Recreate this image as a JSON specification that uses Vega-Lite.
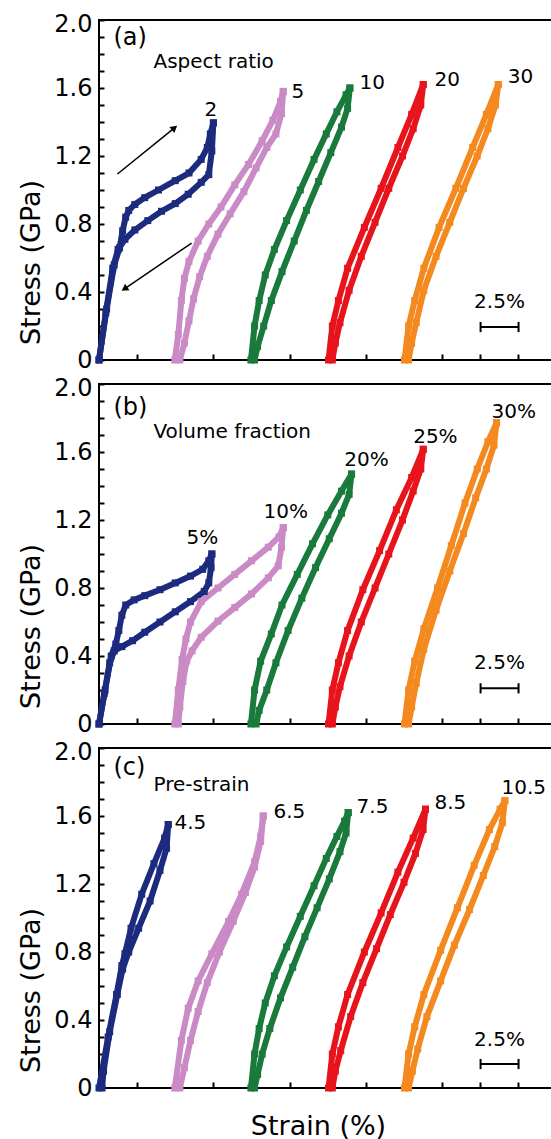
{
"$schema": "https://vega.github.io/schema/vega-lite/v6.json",
"padding": {"left": 16, "top": 11, "right": 0, "bottom": 0},
"bounds": "flush",
"spacing": 24,
"config": {"view": {"stroke": "black", "strokeWidth": 2}, "font": "DejaVu Sans", "axis": {"ticks": true}},
"datasets": {
"curves": [
{"p":"a","c":"blue","b":"a1L","x":0,"y":0},{"p":"a","c":"blue","b":"a1L","x":0.5,"y":0.3},{"p":"a","c":"blue","b":"a1L","x":1.0,"y":0.56},{"p":"a","c":"blue","b":"a1L","x":1.35,"y":0.66},{"p":"a","c":"blue","b":"a1L","x":1.55,"y":0.76},{"p":"a","c":"blue","b":"a1L","x":1.75,"y":0.84},{"p":"a","c":"blue","b":"a1L","x":1.95,"y":0.88},{"p":"a","c":"blue","b":"a1L","x":2.35,"y":0.915},{"p":"a","c":"blue","b":"a1L","x":3.0,"y":0.955},{"p":"a","c":"blue","b":"a1L","x":3.9,"y":1.0},{"p":"a","c":"blue","b":"a1L","x":5.0,"y":1.055},{"p":"a","c":"blue","b":"a1L","x":5.9,"y":1.1},{"p":"a","c":"blue","b":"a1L","x":6.7,"y":1.18},{"p":"a","c":"blue","b":"a1L","x":7.1,"y":1.25},{"p":"a","c":"blue","b":"a1L","x":7.3,"y":1.33},{"p":"a","c":"blue","b":"a1L","x":7.5,"y":1.395},
{"p":"a","c":"blue","b":"a1U","x":7.5,"y":1.395},{"p":"a","c":"blue","b":"a1U","x":7.4,"y":1.23},{"p":"a","c":"blue","b":"a1U","x":7.2,"y":1.09},{"p":"a","c":"blue","b":"a1U","x":6.7,"y":1.045},{"p":"a","c":"blue","b":"a1U","x":5.85,"y":0.975},{"p":"a","c":"blue","b":"a1U","x":5.0,"y":0.92},{"p":"a","c":"blue","b":"a1U","x":4.1,"y":0.875},{"p":"a","c":"blue","b":"a1U","x":3.2,"y":0.82},{"p":"a","c":"blue","b":"a1U","x":2.35,"y":0.765},{"p":"a","c":"blue","b":"a1U","x":1.7,"y":0.71},{"p":"a","c":"blue","b":"a1U","x":1.25,"y":0.65},{"p":"a","c":"blue","b":"a1U","x":0.9,"y":0.54},{"p":"a","c":"blue","b":"a1U","x":0.45,"y":0.28},{"p":"a","c":"blue","b":"a1U","x":0,"y":0},
{"p":"a","c":"pink","b":"a2L","x":4.97,"y":0},{"p":"a","c":"pink","b":"a2L","x":5.2,"y":0.15},{"p":"a","c":"pink","b":"a2L","x":5.4,"y":0.35},{"p":"a","c":"pink","b":"a2L","x":5.6,"y":0.48},{"p":"a","c":"pink","b":"a2L","x":5.9,"y":0.58},{"p":"a","c":"pink","b":"a2L","x":6.5,"y":0.7},{"p":"a","c":"pink","b":"a2L","x":7.2,"y":0.8},{"p":"a","c":"pink","b":"a2L","x":8.0,"y":0.9},{"p":"a","c":"pink","b":"a2L","x":8.9,"y":1.03},{"p":"a","c":"pink","b":"a2L","x":9.8,"y":1.15},{"p":"a","c":"pink","b":"a2L","x":10.7,"y":1.29},{"p":"a","c":"pink","b":"a2L","x":11.4,"y":1.41},{"p":"a","c":"pink","b":"a2L","x":11.9,"y":1.52},{"p":"a","c":"pink","b":"a2L","x":12.08,"y":1.58},
{"p":"a","c":"pink","b":"a2U","x":12.08,"y":1.58},{"p":"a","c":"pink","b":"a2U","x":11.97,"y":1.45},{"p":"a","c":"pink","b":"a2U","x":11.6,"y":1.33},{"p":"a","c":"pink","b":"a2U","x":11.0,"y":1.25},{"p":"a","c":"pink","b":"a2U","x":10.3,"y":1.13},{"p":"a","c":"pink","b":"a2U","x":9.5,"y":0.99},{"p":"a","c":"pink","b":"a2U","x":8.6,"y":0.86},{"p":"a","c":"pink","b":"a2U","x":7.8,"y":0.74},{"p":"a","c":"pink","b":"a2U","x":7.1,"y":0.61},{"p":"a","c":"pink","b":"a2U","x":6.6,"y":0.49},{"p":"a","c":"pink","b":"a2U","x":6.2,"y":0.36},{"p":"a","c":"pink","b":"a2U","x":5.9,"y":0.23},{"p":"a","c":"pink","b":"a2U","x":5.6,"y":0.1},{"p":"a","c":"pink","b":"a2U","x":5.3,"y":0},
{"p":"a","c":"green","b":"a3L","x":9.96,"y":0},{"p":"a","c":"green","b":"a3L","x":10.2,"y":0.2},{"p":"a","c":"green","b":"a3L","x":10.5,"y":0.35},{"p":"a","c":"green","b":"a3L","x":10.9,"y":0.5},{"p":"a","c":"green","b":"a3L","x":11.5,"y":0.65},{"p":"a","c":"green","b":"a3L","x":12.3,"y":0.82},{"p":"a","c":"green","b":"a3L","x":13.2,"y":1.0},{"p":"a","c":"green","b":"a3L","x":14.1,"y":1.18},{"p":"a","c":"green","b":"a3L","x":14.9,"y":1.33},{"p":"a","c":"green","b":"a3L","x":15.6,"y":1.46},{"p":"a","c":"green","b":"a3L","x":16.2,"y":1.56},{"p":"a","c":"green","b":"a3L","x":16.45,"y":1.6},
{"p":"a","c":"green","b":"a3U","x":16.45,"y":1.6},{"p":"a","c":"green","b":"a3U","x":16.3,"y":1.48},{"p":"a","c":"green","b":"a3U","x":15.9,"y":1.37},{"p":"a","c":"green","b":"a3U","x":15.2,"y":1.22},{"p":"a","c":"green","b":"a3U","x":14.4,"y":1.05},{"p":"a","c":"green","b":"a3U","x":13.6,"y":0.88},{"p":"a","c":"green","b":"a3U","x":12.8,"y":0.7},{"p":"a","c":"green","b":"a3U","x":12.0,"y":0.52},{"p":"a","c":"green","b":"a3U","x":11.3,"y":0.35},{"p":"a","c":"green","b":"a3U","x":10.8,"y":0.2},{"p":"a","c":"green","b":"a3U","x":10.4,"y":0.08},{"p":"a","c":"green","b":"a3U","x":10.2,"y":0},
{"p":"a","c":"red","b":"a4L","x":15.05,"y":0},{"p":"a","c":"red","b":"a4L","x":15.3,"y":0.2},{"p":"a","c":"red","b":"a4L","x":15.7,"y":0.35},{"p":"a","c":"red","b":"a4L","x":16.3,"y":0.54},{"p":"a","c":"red","b":"a4L","x":17.4,"y":0.78},{"p":"a","c":"red","b":"a4L","x":18.5,"y":1.01},{"p":"a","c":"red","b":"a4L","x":19.6,"y":1.25},{"p":"a","c":"red","b":"a4L","x":20.5,"y":1.445},{"p":"a","c":"red","b":"a4L","x":21.26,"y":1.62},
{"p":"a","c":"red","b":"a4U","x":21.26,"y":1.62},{"p":"a","c":"red","b":"a4U","x":21.1,"y":1.5},{"p":"a","c":"red","b":"a4U","x":20.6,"y":1.36},{"p":"a","c":"red","b":"a4U","x":19.9,"y":1.2},{"p":"a","c":"red","b":"a4U","x":19.0,"y":1.01},{"p":"a","c":"red","b":"a4U","x":18.1,"y":0.81},{"p":"a","c":"red","b":"a4U","x":17.2,"y":0.61},{"p":"a","c":"red","b":"a4U","x":16.4,"y":0.41},{"p":"a","c":"red","b":"a4U","x":15.8,"y":0.22},{"p":"a","c":"red","b":"a4U","x":15.5,"y":0.1},{"p":"a","c":"red","b":"a4U","x":15.3,"y":0},
{"p":"a","c":"orange","b":"a5L","x":20.03,"y":0},{"p":"a","c":"orange","b":"a5L","x":20.3,"y":0.2},{"p":"a","c":"orange","b":"a5L","x":20.7,"y":0.35},{"p":"a","c":"orange","b":"a5L","x":21.3,"y":0.54},{"p":"a","c":"orange","b":"a5L","x":22.3,"y":0.78},{"p":"a","c":"orange","b":"a5L","x":23.4,"y":1.01},{"p":"a","c":"orange","b":"a5L","x":24.5,"y":1.25},{"p":"a","c":"orange","b":"a5L","x":25.4,"y":1.445},{"p":"a","c":"orange","b":"a5L","x":26.18,"y":1.62},
{"p":"a","c":"orange","b":"a5U","x":26.18,"y":1.62},{"p":"a","c":"orange","b":"a5U","x":26.0,"y":1.5},{"p":"a","c":"orange","b":"a5U","x":25.5,"y":1.36},{"p":"a","c":"orange","b":"a5U","x":24.8,"y":1.2},{"p":"a","c":"orange","b":"a5U","x":23.9,"y":1.01},{"p":"a","c":"orange","b":"a5U","x":23.0,"y":0.81},{"p":"a","c":"orange","b":"a5U","x":22.1,"y":0.61},{"p":"a","c":"orange","b":"a5U","x":21.3,"y":0.41},{"p":"a","c":"orange","b":"a5U","x":20.8,"y":0.22},{"p":"a","c":"orange","b":"a5U","x":20.5,"y":0.1},{"p":"a","c":"orange","b":"a5U","x":20.3,"y":0},
{"p":"b","c":"blue","b":"b1L","x":0,"y":0},{"p":"b","c":"blue","b":"b1L","x":0.4,"y":0.2},{"p":"b","c":"blue","b":"b1L","x":0.8,"y":0.4},{"p":"b","c":"blue","b":"b1L","x":1.1,"y":0.47},{"p":"b","c":"blue","b":"b1L","x":1.3,"y":0.55},{"p":"b","c":"blue","b":"b1L","x":1.5,"y":0.64},{"p":"b","c":"blue","b":"b1L","x":1.75,"y":0.7},{"p":"b","c":"blue","b":"b1L","x":2.3,"y":0.73},{"p":"b","c":"blue","b":"b1L","x":3.0,"y":0.755},{"p":"b","c":"blue","b":"b1L","x":4.0,"y":0.79},{"p":"b","c":"blue","b":"b1L","x":5.0,"y":0.83},{"p":"b","c":"blue","b":"b1L","x":6.0,"y":0.87},{"p":"b","c":"blue","b":"b1L","x":6.8,"y":0.91},{"p":"b","c":"blue","b":"b1L","x":7.2,"y":0.96},{"p":"b","c":"blue","b":"b1L","x":7.4,"y":1.0},
{"p":"b","c":"blue","b":"b1U","x":7.4,"y":1.0},{"p":"b","c":"blue","b":"b1U","x":7.35,"y":0.92},{"p":"b","c":"blue","b":"b1U","x":7.2,"y":0.83},{"p":"b","c":"blue","b":"b1U","x":6.9,"y":0.78},{"p":"b","c":"blue","b":"b1U","x":6.0,"y":0.72},{"p":"b","c":"blue","b":"b1U","x":5.0,"y":0.66},{"p":"b","c":"blue","b":"b1U","x":4.0,"y":0.6},{"p":"b","c":"blue","b":"b1U","x":3.0,"y":0.54},{"p":"b","c":"blue","b":"b1U","x":2.2,"y":0.49},{"p":"b","c":"blue","b":"b1U","x":1.5,"y":0.455},{"p":"b","c":"blue","b":"b1U","x":1.0,"y":0.43},{"p":"b","c":"blue","b":"b1U","x":0.7,"y":0.36},{"p":"b","c":"blue","b":"b1U","x":0.35,"y":0.18},{"p":"b","c":"blue","b":"b1U","x":0,"y":0},
{"p":"b","c":"pink","b":"b2L","x":4.97,"y":0},{"p":"b","c":"pink","b":"b2L","x":5.2,"y":0.2},{"p":"b","c":"pink","b":"b2L","x":5.45,"y":0.38},{"p":"b","c":"pink","b":"b2L","x":5.7,"y":0.5},{"p":"b","c":"pink","b":"b2L","x":6.0,"y":0.6},{"p":"b","c":"pink","b":"b2L","x":6.7,"y":0.72},{"p":"b","c":"pink","b":"b2L","x":7.8,"y":0.8},{"p":"b","c":"pink","b":"b2L","x":8.9,"y":0.88},{"p":"b","c":"pink","b":"b2L","x":10.0,"y":0.96},{"p":"b","c":"pink","b":"b2L","x":11.1,"y":1.04},{"p":"b","c":"pink","b":"b2L","x":11.8,"y":1.1},{"p":"b","c":"pink","b":"b2L","x":12.08,"y":1.155},
{"p":"b","c":"pink","b":"b2U","x":12.08,"y":1.155},{"p":"b","c":"pink","b":"b2U","x":11.97,"y":1.04},{"p":"b","c":"pink","b":"b2U","x":11.75,"y":0.93},{"p":"b","c":"pink","b":"b2U","x":11.1,"y":0.86},{"p":"b","c":"pink","b":"b2U","x":10.0,"y":0.765},{"p":"b","c":"pink","b":"b2U","x":8.9,"y":0.685},{"p":"b","c":"pink","b":"b2U","x":7.8,"y":0.605},{"p":"b","c":"pink","b":"b2U","x":6.7,"y":0.51},{"p":"b","c":"pink","b":"b2U","x":6.1,"y":0.43},{"p":"b","c":"pink","b":"b2U","x":5.75,"y":0.37},{"p":"b","c":"pink","b":"b2U","x":5.5,"y":0.25},{"p":"b","c":"pink","b":"b2U","x":5.3,"y":0.1},{"p":"b","c":"pink","b":"b2U","x":5.2,"y":0},
{"p":"b","c":"green","b":"b3L","x":9.96,"y":0},{"p":"b","c":"green","b":"b3L","x":10.2,"y":0.2},{"p":"b","c":"green","b":"b3L","x":10.6,"y":0.37},{"p":"b","c":"green","b":"b3L","x":11.3,"y":0.53},{"p":"b","c":"green","b":"b3L","x":12.0,"y":0.7},{"p":"b","c":"green","b":"b3L","x":13.0,"y":0.88},{"p":"b","c":"green","b":"b3L","x":14.0,"y":1.06},{"p":"b","c":"green","b":"b3L","x":15.0,"y":1.23},{"p":"b","c":"green","b":"b3L","x":15.9,"y":1.37},{"p":"b","c":"green","b":"b3L","x":16.56,"y":1.47},
{"p":"b","c":"green","b":"b3U","x":16.56,"y":1.47},{"p":"b","c":"green","b":"b3U","x":16.4,"y":1.35},{"p":"b","c":"green","b":"b3U","x":15.9,"y":1.24},{"p":"b","c":"green","b":"b3U","x":15.1,"y":1.09},{"p":"b","c":"green","b":"b3U","x":14.2,"y":0.92},{"p":"b","c":"green","b":"b3U","x":13.3,"y":0.74},{"p":"b","c":"green","b":"b3U","x":12.4,"y":0.55},{"p":"b","c":"green","b":"b3U","x":11.6,"y":0.36},{"p":"b","c":"green","b":"b3U","x":11.0,"y":0.2},{"p":"b","c":"green","b":"b3U","x":10.5,"y":0.08},{"p":"b","c":"green","b":"b3U","x":10.3,"y":0},
{"p":"b","c":"red","b":"b4L","x":15.05,"y":0},{"p":"b","c":"red","b":"b4L","x":15.3,"y":0.2},{"p":"b","c":"red","b":"b4L","x":15.7,"y":0.36},{"p":"b","c":"red","b":"b4L","x":16.3,"y":0.55},{"p":"b","c":"red","b":"b4L","x":17.3,"y":0.79},{"p":"b","c":"red","b":"b4L","x":18.4,"y":1.02},{"p":"b","c":"red","b":"b4L","x":19.5,"y":1.26},{"p":"b","c":"red","b":"b4L","x":20.5,"y":1.45},{"p":"b","c":"red","b":"b4L","x":21.26,"y":1.616},
{"p":"b","c":"red","b":"b4U","x":21.26,"y":1.616},{"p":"b","c":"red","b":"b4U","x":21.1,"y":1.5},{"p":"b","c":"red","b":"b4U","x":20.6,"y":1.37},{"p":"b","c":"red","b":"b4U","x":19.9,"y":1.2},{"p":"b","c":"red","b":"b4U","x":19.0,"y":1.0},{"p":"b","c":"red","b":"b4U","x":18.1,"y":0.8},{"p":"b","c":"red","b":"b4U","x":17.2,"y":0.6},{"p":"b","c":"red","b":"b4U","x":16.4,"y":0.4},{"p":"b","c":"red","b":"b4U","x":15.8,"y":0.22},{"p":"b","c":"red","b":"b4U","x":15.5,"y":0.1},{"p":"b","c":"red","b":"b4U","x":15.3,"y":0},
{"p":"b","c":"orange","b":"b5L","x":20.03,"y":0},{"p":"b","c":"orange","b":"b5L","x":20.3,"y":0.2},{"p":"b","c":"orange","b":"b5L","x":20.7,"y":0.37},{"p":"b","c":"orange","b":"b5L","x":21.3,"y":0.56},{"p":"b","c":"orange","b":"b5L","x":22.2,"y":0.8},{"p":"b","c":"orange","b":"b5L","x":23.1,"y":1.05},{"p":"b","c":"orange","b":"b5L","x":24.0,"y":1.3},{"p":"b","c":"orange","b":"b5L","x":24.8,"y":1.5},{"p":"b","c":"orange","b":"b5L","x":25.5,"y":1.66},{"p":"b","c":"orange","b":"b5L","x":26.07,"y":1.772},
{"p":"b","c":"orange","b":"b5U","x":26.07,"y":1.772},{"p":"b","c":"orange","b":"b5U","x":25.9,"y":1.64},{"p":"b","c":"orange","b":"b5U","x":25.4,"y":1.5},{"p":"b","c":"orange","b":"b5U","x":24.7,"y":1.33},{"p":"b","c":"orange","b":"b5U","x":23.9,"y":1.12},{"p":"b","c":"orange","b":"b5U","x":23.0,"y":0.9},{"p":"b","c":"orange","b":"b5U","x":22.1,"y":0.67},{"p":"b","c":"orange","b":"b5U","x":21.3,"y":0.44},{"p":"b","c":"orange","b":"b5U","x":20.8,"y":0.24},{"p":"b","c":"orange","b":"b5U","x":20.5,"y":0.1},{"p":"b","c":"orange","b":"b5U","x":20.3,"y":0},
{"p":"c","c":"blue","b":"c1L","x":0,"y":0},{"p":"c","c":"blue","b":"c1L","x":0.6,"y":0.3},{"p":"c","c":"blue","b":"c1L","x":1.15,"y":0.55},{"p":"c","c":"blue","b":"c1L","x":1.5,"y":0.72},{"p":"c","c":"blue","b":"c1L","x":1.7,"y":0.79},{"p":"c","c":"blue","b":"c1L","x":2.1,"y":0.94},{"p":"c","c":"blue","b":"c1L","x":2.8,"y":1.14},{"p":"c","c":"blue","b":"c1L","x":3.6,"y":1.32},{"p":"c","c":"blue","b":"c1L","x":4.3,"y":1.47},{"p":"c","c":"blue","b":"c1L","x":4.54,"y":1.55},
{"p":"c","c":"blue","b":"c1U","x":4.54,"y":1.55},{"p":"c","c":"blue","b":"c1U","x":4.43,"y":1.41},{"p":"c","c":"blue","b":"c1U","x":4.0,"y":1.28},{"p":"c","c":"blue","b":"c1U","x":3.35,"y":1.1},{"p":"c","c":"blue","b":"c1U","x":2.6,"y":0.94},{"p":"c","c":"blue","b":"c1U","x":1.95,"y":0.8},{"p":"c","c":"blue","b":"c1U","x":1.55,"y":0.7},{"p":"c","c":"blue","b":"c1U","x":1.2,"y":0.55},{"p":"c","c":"blue","b":"c1U","x":0.7,"y":0.33},{"p":"c","c":"blue","b":"c1U","x":0.3,"y":0.1},{"p":"c","c":"blue","b":"c1U","x":0.2,"y":0},
{"p":"c","c":"pink","b":"c2L","x":4.97,"y":0},{"p":"c","c":"pink","b":"c2L","x":5.4,"y":0.28},{"p":"c","c":"pink","b":"c2L","x":5.85,"y":0.47},{"p":"c","c":"pink","b":"c2L","x":6.5,"y":0.63},{"p":"c","c":"pink","b":"c2L","x":7.4,"y":0.79},{"p":"c","c":"pink","b":"c2L","x":8.5,"y":0.98},{"p":"c","c":"pink","b":"c2L","x":9.35,"y":1.14},{"p":"c","c":"pink","b":"c2L","x":10.2,"y":1.33},{"p":"c","c":"pink","b":"c2L","x":10.6,"y":1.48},{"p":"c","c":"pink","b":"c2L","x":10.77,"y":1.6},
{"p":"c","c":"pink","b":"c2U","x":10.77,"y":1.6},{"p":"c","c":"pink","b":"c2U","x":10.6,"y":1.45},{"p":"c","c":"pink","b":"c2U","x":10.2,"y":1.3},{"p":"c","c":"pink","b":"c2U","x":9.6,"y":1.15},{"p":"c","c":"pink","b":"c2U","x":8.8,"y":0.98},{"p":"c","c":"pink","b":"c2U","x":7.9,"y":0.8},{"p":"c","c":"pink","b":"c2U","x":7.1,"y":0.62},{"p":"c","c":"pink","b":"c2U","x":6.5,"y":0.45},{"p":"c","c":"pink","b":"c2U","x":6.0,"y":0.28},{"p":"c","c":"pink","b":"c2U","x":5.6,"y":0.12},{"p":"c","c":"pink","b":"c2U","x":5.3,"y":0},
{"p":"c","c":"green","b":"c3L","x":9.96,"y":0},{"p":"c","c":"green","b":"c3L","x":10.2,"y":0.2},{"p":"c","c":"green","b":"c3L","x":10.5,"y":0.35},{"p":"c","c":"green","b":"c3L","x":10.9,"y":0.5},{"p":"c","c":"green","b":"c3L","x":11.5,"y":0.66},{"p":"c","c":"green","b":"c3L","x":12.3,"y":0.83},{"p":"c","c":"green","b":"c3L","x":13.2,"y":1.01},{"p":"c","c":"green","b":"c3L","x":14.1,"y":1.19},{"p":"c","c":"green","b":"c3L","x":14.9,"y":1.35},{"p":"c","c":"green","b":"c3L","x":15.6,"y":1.48},{"p":"c","c":"green","b":"c3L","x":16.1,"y":1.57},{"p":"c","c":"green","b":"c3L","x":16.34,"y":1.62},
{"p":"c","c":"green","b":"c3U","x":16.34,"y":1.62},{"p":"c","c":"green","b":"c3U","x":16.2,"y":1.5},{"p":"c","c":"green","b":"c3U","x":15.8,"y":1.39},{"p":"c","c":"green","b":"c3U","x":15.1,"y":1.23},{"p":"c","c":"green","b":"c3U","x":14.3,"y":1.06},{"p":"c","c":"green","b":"c3U","x":13.5,"y":0.89},{"p":"c","c":"green","b":"c3U","x":12.7,"y":0.71},{"p":"c","c":"green","b":"c3U","x":11.9,"y":0.53},{"p":"c","c":"green","b":"c3U","x":11.2,"y":0.35},{"p":"c","c":"green","b":"c3U","x":10.7,"y":0.2},{"p":"c","c":"green","b":"c3U","x":10.4,"y":0.08},{"p":"c","c":"green","b":"c3U","x":10.2,"y":0},
{"p":"c","c":"red","b":"c4L","x":15.05,"y":0},{"p":"c","c":"red","b":"c4L","x":15.3,"y":0.2},{"p":"c","c":"red","b":"c4L","x":15.7,"y":0.36},{"p":"c","c":"red","b":"c4L","x":16.3,"y":0.55},{"p":"c","c":"red","b":"c4L","x":17.4,"y":0.8},{"p":"c","c":"red","b":"c4L","x":18.5,"y":1.03},{"p":"c","c":"red","b":"c4L","x":19.6,"y":1.27},{"p":"c","c":"red","b":"c4L","x":20.6,"y":1.47},{"p":"c","c":"red","b":"c4L","x":21.41,"y":1.64},
{"p":"c","c":"red","b":"c4U","x":21.41,"y":1.64},{"p":"c","c":"red","b":"c4U","x":21.25,"y":1.52},{"p":"c","c":"red","b":"c4U","x":20.75,"y":1.38},{"p":"c","c":"red","b":"c4U","x":20.0,"y":1.21},{"p":"c","c":"red","b":"c4U","x":19.1,"y":1.02},{"p":"c","c":"red","b":"c4U","x":18.2,"y":0.82},{"p":"c","c":"red","b":"c4U","x":17.3,"y":0.62},{"p":"c","c":"red","b":"c4U","x":16.5,"y":0.42},{"p":"c","c":"red","b":"c4U","x":15.85,"y":0.22},{"p":"c","c":"red","b":"c4U","x":15.5,"y":0.1},{"p":"c","c":"red","b":"c4U","x":15.3,"y":0},
{"p":"c","c":"orange","b":"c5L","x":20.03,"y":0},{"p":"c","c":"orange","b":"c5L","x":20.3,"y":0.2},{"p":"c","c":"orange","b":"c5L","x":20.7,"y":0.36},{"p":"c","c":"orange","b":"c5L","x":21.3,"y":0.55},{"p":"c","c":"orange","b":"c5L","x":22.4,"y":0.81},{"p":"c","c":"orange","b":"c5L","x":23.5,"y":1.06},{"p":"c","c":"orange","b":"c5L","x":24.6,"y":1.31},{"p":"c","c":"orange","b":"c5L","x":25.6,"y":1.52},{"p":"c","c":"orange","b":"c5L","x":26.3,"y":1.64},{"p":"c","c":"orange","b":"c5L","x":26.61,"y":1.69},
{"p":"c","c":"orange","b":"c5U","x":26.61,"y":1.69},{"p":"c","c":"orange","b":"c5U","x":26.45,"y":1.56},{"p":"c","c":"orange","b":"c5U","x":25.95,"y":1.42},{"p":"c","c":"orange","b":"c5U","x":25.2,"y":1.25},{"p":"c","c":"orange","b":"c5U","x":24.3,"y":1.05},{"p":"c","c":"orange","b":"c5U","x":23.3,"y":0.84},{"p":"c","c":"orange","b":"c5U","x":22.4,"y":0.63},{"p":"c","c":"orange","b":"c5U","x":21.5,"y":0.42},{"p":"c","c":"orange","b":"c5U","x":20.9,"y":0.23},{"p":"c","c":"orange","b":"c5U","x":20.55,"y":0.1},{"p":"c","c":"orange","b":"c5U","x":20.3,"y":0}
],
"labels": [
{"p":"a","k":"big","t":"(a)","x":0.95,"y":1.853},{"p":"a","k":"note","t":"Aspect ratio","x":3.57,"y":1.72},
{"p":"a","k":"note","t":"2","x":6.92,"y":1.435},{"p":"a","k":"note","t":"5","x":12.62,"y":1.54},{"p":"a","k":"note","t":"10","x":17.08,"y":1.594},{"p":"a","k":"note","t":"20","x":22.0,"y":1.61},{"p":"a","k":"note","t":"30","x":26.8,"y":1.63},
{"p":"b","k":"big","t":"(b)","x":0.95,"y":1.818},{"p":"b","k":"note","t":"Volume fraction","x":3.57,"y":1.682},
{"p":"b","k":"note","t":"5%","x":5.74,"y":1.06},{"p":"b","k":"note","t":"10%","x":10.79,"y":1.214},{"p":"b","k":"note","t":"20%","x":16.08,"y":1.518},{"p":"b","k":"note","t":"25%","x":20.6,"y":1.655},{"p":"b","k":"note","t":"30%","x":25.74,"y":1.802},
{"p":"c","k":"big","t":"(c)","x":0.95,"y":1.841},{"p":"c","k":"note","t":"Pre-strain","x":3.57,"y":1.747},
{"p":"c","k":"note","t":"4.5","x":4.95,"y":1.524},{"p":"c","k":"note","t":"6.5","x":11.44,"y":1.588},{"p":"c","k":"note","t":"7.5","x":16.89,"y":1.62},{"p":"c","k":"note","t":"8.5","x":22.0,"y":1.641},{"p":"c","k":"note","t":"10.5","x":26.39,"y":1.729}
],
"scalelab": [
{"p":"a","t":"2.5%","x":26.26,"y":0.306},{"p":"b","t":"2.5%","x":26.26,"y":0.324},{"p":"c","t":"2.5%","x":26.26,"y":0.247}
],
"bars": [
{"p":"a","x":25.02,"x2":27.51,"y":0.194},{"p":"b","x":25.02,"x2":27.51,"y":0.21},{"p":"c","x":25.02,"x2":27.51,"y":0.141}
],
"caps": [
{"p":"a","x":25.02,"y":0.164,"y2":0.224},{"p":"a","x":27.51,"y":0.164,"y2":0.224},
{"p":"b","x":25.02,"y":0.18,"y2":0.24},{"p":"b","x":27.51,"y":0.18,"y2":0.24},
{"p":"c","x":25.02,"y":0.111,"y2":0.171},{"p":"c","x":27.51,"y":0.111,"y2":0.171}
],
"arrows": [
{"x":1.21,"y":1.094,"x2":4.95,"y2":1.365},{"x":6.07,"y":0.688,"x2":1.67,"y2":0.418}
],
"heads": [
{"h":"up","x":4.95,"y":1.365},{"h":"dn","x":1.67,"y":0.418}
]
},
"vconcat": [
{"width": 456, "height": 340,
 "encoding": {
   "x": {"field": "x", "type": "quantitative", "scale": {"domain": [0, 29.9], "nice": false, "zero": false},
     "axis": {"values": [2.5, 7.5, 12.5, 17.5, 22.5, 25, 27.5], "ticks": true, "labels": false, "domain": false, "grid": false, "offset": -6, "tickSize": 6, "tickWidth": 2, "tickColor": "black", "tickOpacity": 1, "title": null}},
   "y": {"field": "y", "type": "quantitative", "scale": {"domain": [0, 2], "nice": false},
     "axis": {"values": [0,0.1,0.2,0.3,0.4,0.5,0.6,0.7,0.8,0.9,1.0,1.1,1.2,1.3,1.4,1.5,1.6,1.7,1.8,1.9,2.0], "labelExpr": "datum.value == 0 ? '0' : (round(datum.value*10) % 4 == 0 ? format(datum.value, '.1f') : '')", "labelOffset": {"condition": {"test": "datum.value == 2", "value": 4}, "value": 0}, "labelFlush": false, "labelOverlap": false, "labelFont": "DejaVu Sans", "labelFontSize": 24, "labelColor": "black", "labelPadding": 7, "ticks": true, "offset": -5, "tickSize": 5, "tickWidth": 2, "tickColor": "black", "tickOpacity": 1, "domain": false, "grid": false, "title": "Stress (GPa)", "titleFont": "DejaVu Sans", "titleFontSize": 27, "titleFontWeight": "normal", "titleColor": "black", "titlePadding": 8, "titleY": 242}}},
 "layer": [
 {"data": {"name": "curves"}, "transform": [{"filter": "datum.p == 'a'"}],
  "mark": {"type": "line", "strokeWidth": 6, "point": {"shape": "square", "filled": true, "size": 49}},
  "encoding": {
   "color": {"field": "c", "type": "nominal", "scale": {"domain": ["blue", "pink", "green", "red", "orange"], "range": ["#1c2b7e", "#c98ac5", "#1a7a3c", "#e8141c", "#f3891f"]}, "legend": null},
   "detail": {"field": "b"},
   "order": {"field": "y", "type": "quantitative"}}},
 {"data": {"name": "labels"}, "transform": [{"filter": "datum.p == 'a' && datum.k == 'big'"}],
  "mark": {"type": "text", "align": "left", "baseline": "alphabetic", "fontSize": 24, "color": "black"},
  "encoding": {"text": {"field": "t"}}},
 {"data": {"name": "labels"}, "transform": [{"filter": "datum.p == 'a' && datum.k == 'note'"}],
  "mark": {"type": "text", "align": "left", "baseline": "alphabetic", "fontSize": 20, "color": "black"},
  "encoding": {"text": {"field": "t"}}},
 {"data": {"name": "scalelab"}, "transform": [{"filter": "datum.p == 'a'"}],
  "mark": {"type": "text", "align": "center", "baseline": "alphabetic", "fontSize": 20, "color": "black"},
  "encoding": {"text": {"field": "t"}}},
 {"data": {"name": "bars"}, "transform": [{"filter": "datum.p == 'a'"}],
  "mark": {"type": "rule", "strokeWidth": 2, "color": "black"},
  "encoding": {"x2": {"field": "x2"}}},
 {"data": {"name": "caps"}, "transform": [{"filter": "datum.p == 'a'"}],
  "mark": {"type": "rule", "strokeWidth": 2, "color": "black"},
  "encoding": {"y2": {"field": "y2"}}},
 {"data": {"name": "arrows"},
  "mark": {"type": "rule", "strokeWidth": 1.5, "color": "black"},
  "encoding": {"x2": {"field": "x2"}, "y2": {"field": "y2"}}},
 {"data": {"name": "heads"}, "transform": [{"filter": "datum.h == 'up'"}],
  "mark": {"type": "point", "shape": "triangle-up", "filled": true, "size": 60, "angle": 51, "color": "black", "opacity": 1},
  "encoding": {}},
 {"data": {"name": "heads"}, "transform": [{"filter": "datum.h == 'dn'"}],
  "mark": {"type": "point", "shape": "triangle-up", "filled": true, "size": 60, "angle": 236, "color": "black", "opacity": 1},
  "encoding": {}}
]},
{"width": 456, "height": 340,
 "encoding": {
   "x": {"field": "x", "type": "quantitative", "scale": {"domain": [0, 29.9], "nice": false, "zero": false},
     "axis": {"values": [2.5, 7.5, 12.5, 17.5, 22.5, 25, 27.5], "ticks": true, "labels": false, "domain": false, "grid": false, "offset": -6, "tickSize": 6, "tickWidth": 2, "tickColor": "black", "tickOpacity": 1, "title": null}},
   "y": {"field": "y", "type": "quantitative", "scale": {"domain": [0, 2], "nice": false},
     "axis": {"values": [0,0.1,0.2,0.3,0.4,0.5,0.6,0.7,0.8,0.9,1.0,1.1,1.2,1.3,1.4,1.5,1.6,1.7,1.8,1.9,2.0], "labelExpr": "datum.value == 0 ? '0' : (round(datum.value*10) % 4 == 0 ? format(datum.value, '.1f') : '')", "labelOffset": {"condition": {"test": "datum.value == 2", "value": 4}, "value": 0}, "labelFlush": false, "labelOverlap": false, "labelFont": "DejaVu Sans", "labelFontSize": 24, "labelColor": "black", "labelPadding": 7, "ticks": true, "offset": -5, "tickSize": 5, "tickWidth": 2, "tickColor": "black", "tickOpacity": 1, "domain": false, "grid": false, "title": "Stress (GPa)", "titleFont": "DejaVu Sans", "titleFontSize": 27, "titleFontWeight": "normal", "titleColor": "black", "titlePadding": 8, "titleY": 242}}},
 "layer": [
 {"data": {"name": "curves"}, "transform": [{"filter": "datum.p == 'b'"}],
  "mark": {"type": "line", "strokeWidth": 6, "point": {"shape": "square", "filled": true, "size": 49}},
  "encoding": {
   "color": {"field": "c", "type": "nominal", "scale": {"domain": ["blue", "pink", "green", "red", "orange"], "range": ["#1c2b7e", "#c98ac5", "#1a7a3c", "#e8141c", "#f3891f"]}, "legend": null},
   "detail": {"field": "b"},
   "order": {"field": "y", "type": "quantitative"}}},
 {"data": {"name": "labels"}, "transform": [{"filter": "datum.p == 'b' && datum.k == 'big'"}],
  "mark": {"type": "text", "align": "left", "baseline": "alphabetic", "fontSize": 24, "color": "black"},
  "encoding": {"text": {"field": "t"}}},
 {"data": {"name": "labels"}, "transform": [{"filter": "datum.p == 'b' && datum.k == 'note'"}],
  "mark": {"type": "text", "align": "left", "baseline": "alphabetic", "fontSize": 20, "color": "black"},
  "encoding": {"text": {"field": "t"}}},
 {"data": {"name": "scalelab"}, "transform": [{"filter": "datum.p == 'b'"}],
  "mark": {"type": "text", "align": "center", "baseline": "alphabetic", "fontSize": 20, "color": "black"},
  "encoding": {"text": {"field": "t"}}},
 {"data": {"name": "bars"}, "transform": [{"filter": "datum.p == 'b'"}],
  "mark": {"type": "rule", "strokeWidth": 2, "color": "black"},
  "encoding": {"x2": {"field": "x2"}}},
 {"data": {"name": "caps"}, "transform": [{"filter": "datum.p == 'b'"}],
  "mark": {"type": "rule", "strokeWidth": 2, "color": "black"},
  "encoding": {"y2": {"field": "y2"}}}
]},
{"width": 456, "height": 340,
 "encoding": {
   "x": {"field": "x", "type": "quantitative", "scale": {"domain": [0, 29.9], "nice": false, "zero": false},
     "axis": {"values": [2.5, 7.5, 12.5, 17.5, 22.5, 25, 27.5], "ticks": true, "labels": false, "domain": false, "grid": false, "offset": -6, "tickSize": 6, "tickWidth": 2, "tickColor": "black", "tickOpacity": 1, "title": "Strain (%)", "titleFont": "DejaVu Sans", "titleFontSize": 27, "titleFontWeight": "normal", "titleColor": "black", "titlePadding": 24, "titleX": 219}},
   "y": {"field": "y", "type": "quantitative", "scale": {"domain": [0, 2], "nice": false},
     "axis": {"values": [0,0.1,0.2,0.3,0.4,0.5,0.6,0.7,0.8,0.9,1.0,1.1,1.2,1.3,1.4,1.5,1.6,1.7,1.8,1.9,2.0], "labelExpr": "datum.value == 0 ? '0' : (round(datum.value*10) % 4 == 0 ? format(datum.value, '.1f') : '')", "labelOffset": {"condition": {"test": "datum.value == 2", "value": 4}, "value": 0}, "labelFlush": false, "labelOverlap": false, "labelFont": "DejaVu Sans", "labelFontSize": 24, "labelColor": "black", "labelPadding": 7, "ticks": true, "offset": -5, "tickSize": 5, "tickWidth": 2, "tickColor": "black", "tickOpacity": 1, "domain": false, "grid": false, "title": "Stress (GPa)", "titleFont": "DejaVu Sans", "titleFontSize": 27, "titleFontWeight": "normal", "titleColor": "black", "titlePadding": 8, "titleY": 242}}},
 "layer": [
 {"data": {"name": "curves"}, "transform": [{"filter": "datum.p == 'c'"}],
  "mark": {"type": "line", "strokeWidth": 6, "point": {"shape": "square", "filled": true, "size": 49}},
  "encoding": {
   "color": {"field": "c", "type": "nominal", "scale": {"domain": ["blue", "pink", "green", "red", "orange"], "range": ["#1c2b7e", "#c98ac5", "#1a7a3c", "#e8141c", "#f3891f"]}, "legend": null},
   "detail": {"field": "b"},
   "order": {"field": "y", "type": "quantitative"}}},
 {"data": {"name": "labels"}, "transform": [{"filter": "datum.p == 'c' && datum.k == 'big'"}],
  "mark": {"type": "text", "align": "left", "baseline": "alphabetic", "fontSize": 24, "color": "black"},
  "encoding": {"text": {"field": "t"}}},
 {"data": {"name": "labels"}, "transform": [{"filter": "datum.p == 'c' && datum.k == 'note'"}],
  "mark": {"type": "text", "align": "left", "baseline": "alphabetic", "fontSize": 20, "color": "black"},
  "encoding": {"text": {"field": "t"}}},
 {"data": {"name": "scalelab"}, "transform": [{"filter": "datum.p == 'c'"}],
  "mark": {"type": "text", "align": "center", "baseline": "alphabetic", "fontSize": 20, "color": "black"},
  "encoding": {"text": {"field": "t"}}},
 {"data": {"name": "bars"}, "transform": [{"filter": "datum.p == 'c'"}],
  "mark": {"type": "rule", "strokeWidth": 2, "color": "black"},
  "encoding": {"x2": {"field": "x2"}}},
 {"data": {"name": "caps"}, "transform": [{"filter": "datum.p == 'c'"}],
  "mark": {"type": "rule", "strokeWidth": 2, "color": "black"},
  "encoding": {"y2": {"field": "y2"}}}
]}
]
}
